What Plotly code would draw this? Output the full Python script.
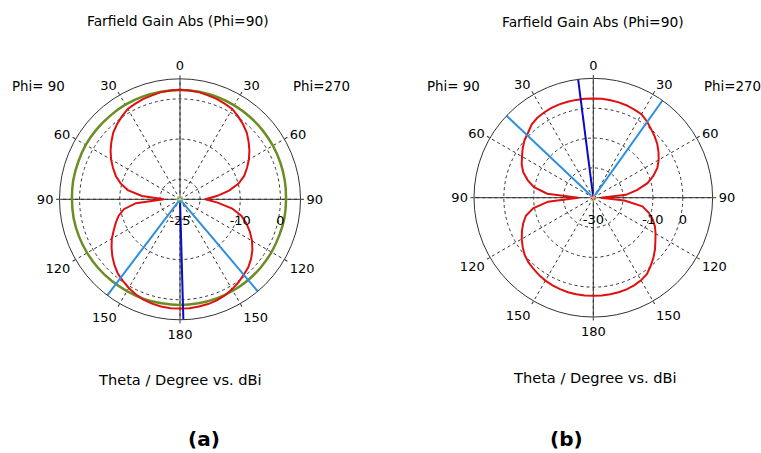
import plotly.graph_objects as go

# ---------------- data ----------------
# plot angle (clockwise from top): right half = Phi=270 side, left half = Phi=90 side
theta_red = list(range(0, 361, 5))
theta_green = list(range(0, 361, 10))

red_a = [2.3, 2.2, 2.1, 1.8, 1.6, 1.3, 1.0, 0.2, -0.6, -1.5, -2.7, -3.9, -5.2, -6.6, -8.0, -9.9,
         -12.6, -15.8, -18.7, -15.6, -11.8, -9.2, -7.4, -5.8, -4.3, -3.0, -1.9, -1.0, -0.4, 0.3,
         0.9, 1.4, 1.8, 2.0, 2.1, 2.2, 2.2, 2.2, 2.1, 1.9, 1.6, 1.1, 0.5, -0.2, -0.9, -1.9, -3.0,
         -4.2, -5.4, -6.8, -8.0, -9.2, -10.8, -14.0, -21.0, -15.5, -11.8, -9.7, -8.0, -6.6, -5.2,
         -3.9, -2.7, -1.5, -0.6, 0.2, 1.0, 1.3, 1.6, 1.8, 2.1, 2.2, 2.3]

green_a = [2.2, 2.2, 2.1, 2.0, 1.9, 1.8, 1.7, 1.6, 1.5, 1.4, 1.4, 1.3, 1.3, 1.3, 1.3, 1.3, 1.3,
           1.3, 1.3, 1.3, 1.4, 1.4, 1.5, 1.6, 1.7, 1.8, 1.9, 1.9, 2.0, 2.0, 2.1, 2.1, 2.1, 2.2,
           2.2, 2.2, 2.2]

red_b = [3.3, 3.3, 3.2, 3.1, 2.9, 2.6, 2.3, 1.3, 0.1, -0.9, -2.0, -3.3, -4.7, -6.3, -8.6, -11.2,
         -15.0, -19.0, -27.5, -19.5, -13.3, -10.8, -8.8, -7.2, -5.9, -4.6, -3.0, -1.5, -0.1, 1.3,
         2.0, 2.4, 2.7, 2.8, 2.9, 2.9, 2.9, 2.9, 2.9, 2.8, 2.6, 2.4, 2.1, 1.7, 1.2, 0.7, 0.0,
         -1.1, -2.3, -3.6, -5.0, -6.6, -9.5, -14.8, -25.0, -14.5, -9.8, -7.2, -5.0, -3.5, -2.4,
         -1.1, 0.1, 0.9, 2.1, 2.7, 3.0, 3.2, 3.3, 3.3, 3.3, 3.3, 3.3]

beam_a = [139.8, 217.1]     # 3 dB beamwidth markers
main_a = 178.4              # main lobe direction
beam_b = [35.4, 313.4]
main_b = 352.7

range_a = [-25, 5]
range_b = [-30, 10]
rtick_a = [-25, -20, -10, 0]
rtext_a = ["-25", "", "-10", "0"]
rtick_b = [-30, -20, -10, 0]
rtext_b = ["-30", "", "-10", "0"]

ang_vals = list(range(0, 360, 30))
ang_text = ["0", "30", "60", "90", "120", "150", "180", "150", "120", "90", "60", "30"]

# ---------------- styling ----------------
FONT = "DejaVu Sans"
RED = "#e01010"
GREEN = "#6b8e23"
LBLUE = "#2c8fe0"
DBLUE = "#0a0ac8"
AX = "#333333"

fig = go.Figure()


def add_panel(sub, rng, red, green=None, beams=(), main=None):
    rmin, rmax = rng
    # crosshair axes
    for t in (0, 90):
        fig.add_trace(go.Scatterpolar(r=[rmax, rmin, rmax], theta=[t, t, t + 180], mode="lines",
                                      line=dict(color=AX, width=1), subplot=sub,
                                      hoverinfo="skip", showlegend=False))
    if green is not None:
        fig.add_trace(go.Scatterpolar(r=green, theta=theta_green, mode="lines",
                                      line=dict(color=GREEN, width=2.5, shape="spline"),
                                      subplot=sub, showlegend=False))
    fig.add_trace(go.Scatterpolar(r=red, theta=theta_red, mode="lines",
                                  line=dict(color=RED, width=2), subplot=sub, showlegend=False))
    for b in beams:
        fig.add_trace(go.Scatterpolar(r=[rmin, rmax], theta=[b, b], mode="lines",
                                      line=dict(color=LBLUE, width=2), subplot=sub,
                                      showlegend=False))
    if main is not None:
        fig.add_trace(go.Scatterpolar(r=[rmin, rmax], theta=[main, main], mode="lines",
                                      line=dict(color=DBLUE, width=2), subplot=sub,
                                      showlegend=False))
    fig.add_trace(go.Scatterpolar(r=[rmin], theta=[0], mode="markers",
                                  marker=dict(symbol="asterisk-open", size=6,
                                              line=dict(color="#888", width=1)),
                                  subplot=sub, showlegend=False))


add_panel("polar", range_a, red_a, green_a, beam_a, main_a)
add_panel("polar2", range_b, red_b, None, beam_b, main_b)


def polar_layout(dx, dy, rng, tv, tt):
    return dict(
        domain=dict(x=dx, y=dy),
        bgcolor="white",
        angularaxis=dict(direction="clockwise", rotation=90, tickmode="array",
                         tickvals=ang_vals, ticktext=ang_text, showgrid=True,
                         gridcolor=AX, gridwidth=1, griddash="3px,3px",
                         showline=True, linecolor=AX, linewidth=1,
                         ticks="outside", ticklen=3, tickcolor=AX,
                         tickfont=dict(family=FONT, size=13, color="black")),
        radialaxis=dict(range=rng, tickmode="array", tickvals=tv, ticktext=tt,
                        angle=0, side="clockwise", showline=False,
                        ticks="outside", ticklen=10, tickcolor="rgba(0,0,0,0)",
                        showgrid=True, gridcolor=AX, gridwidth=1, griddash="3px,3px",
                        tickfont=dict(family=FONT, size=13, color="black")),
    )


W, H = 761, 453
fig.update_layout(
    width=W, height=H, margin=dict(l=0, r=0, t=0, b=0),
    paper_bgcolor="white", showlegend=False,
    polar=polar_layout([59.5 / W, 300.5 / W], [133.2 / H, 374.2 / H], range_a, rtick_a, rtext_a),
    polar2=polar_layout([474 / W, 712.6 / W], [136 / H, 374.6 / H], range_b, rtick_b, rtext_b),
)


def ann(text, x, y, size=14, bold=False):
    fig.add_annotation(text=f"<b>{text}</b>" if bold else text, x=x / W, y=1 - y / H,
                       xref="paper", yref="paper", showarrow=False,
                       xanchor="center", yanchor="middle",
                       font=dict(family=FONT, size=size, color="black"))


ann("Farfield Gain Abs (Phi=90)", 178, 21, 13.8)
ann("Farfield Gain Abs (Phi=90)", 593, 22, 13.8)
ann("Phi= 90", 38, 87, 13.4)
ann("Phi=270", 321, 87, 13.4)
ann("Phi= 90", 453, 87, 13.4)
ann("Phi=270", 732, 87, 13.4)
ann("Theta / Degree vs. dBi", 180, 379, 14.6)
ann("Theta / Degree vs. dBi", 595, 377, 14.6)
ann("(a)", 204, 439, 20, True)
ann("(b)", 566, 439, 20, True)

fig.write_html("out.html", config={"displayModeBar": False},
               post_script="document.body.style.margin='0px';document.body.style.padding='0px';")
